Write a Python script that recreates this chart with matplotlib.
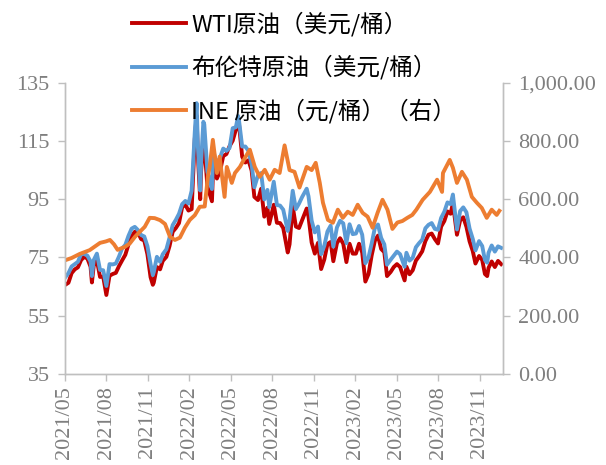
import matplotlib.pyplot as plt
from matplotlib.font_manager import FontProperties
import pandas as pd

plt.rcParams['font.family'] = 'serif'
plt.rcParams['font.serif'] = ['Liberation Serif', 'DejaVu Serif']

# weekly closes (plus a few intraweek extremes), USD/bbl
dates = ["2021-05-20", "2021-05-28", "2021-06-04", "2021-06-11", "2021-06-18", "2021-06-25",
         "2021-07-02", "2021-07-09", "2021-07-16", "2021-07-19", "2021-07-23", "2021-07-30",
         "2021-08-06", "2021-08-13", "2021-08-20", "2021-08-27", "2021-09-03", "2021-09-10",
         "2021-09-17", "2021-09-24", "2021-10-01", "2021-10-08", "2021-10-15", "2021-10-22",
         "2021-10-29", "2021-11-05", "2021-11-12", "2021-11-19", "2021-11-26", "2021-12-01",
         "2021-12-03", "2021-12-10", "2021-12-17", "2021-12-23", "2021-12-31", "2022-01-07",
         "2022-01-14", "2022-01-21", "2022-01-28", "2022-02-04", "2022-02-11", "2022-02-18",
         "2022-02-25", "2022-03-04", "2022-03-08", "2022-03-11", "2022-03-16", "2022-03-18",
         "2022-03-23", "2022-03-25", "2022-04-01", "2022-04-11", "2022-04-14", "2022-04-22",
         "2022-04-29", "2022-05-06", "2022-05-13", "2022-05-20", "2022-05-27", "2022-06-03",
         "2022-06-08", "2022-06-10", "2022-06-17", "2022-06-24", "2022-07-01", "2022-07-08",
         "2022-07-14", "2022-07-22", "2022-07-29", "2022-08-05", "2022-08-12", "2022-08-16",
         "2022-08-26", "2022-09-02", "2022-09-09", "2022-09-16", "2022-09-26", "2022-09-30",
         "2022-10-07", "2022-10-14", "2022-10-21", "2022-10-28", "2022-11-07", "2022-11-11",
         "2022-11-18", "2022-11-25", "2022-12-02", "2022-12-09", "2022-12-16", "2022-12-23",
         "2022-12-30", "2023-01-05", "2023-01-13", "2023-01-20", "2023-01-27", "2023-02-03",
         "2023-02-10", "2023-02-17", "2023-02-24", "2023-03-03", "2023-03-10", "2023-03-17",
         "2023-03-24", "2023-03-31", "2023-04-07", "2023-04-14", "2023-04-21", "2023-04-28",
         "2023-05-04", "2023-05-12", "2023-05-19", "2023-05-26", "2023-06-02", "2023-06-12",
         "2023-06-16", "2023-06-23", "2023-06-30", "2023-07-07", "2023-07-14", "2023-07-21",
         "2023-07-28", "2023-08-04", "2023-08-11", "2023-08-18", "2023-08-25", "2023-09-01",
         "2023-09-08", "2023-09-15", "2023-09-22", "2023-09-27", "2023-10-06", "2023-10-13",
         "2023-10-20", "2023-10-27", "2023-11-03", "2023-11-10", "2023-11-16", "2023-11-24",
         "2023-12-01", "2023-12-07", "2023-12-12", "2023-12-15", "2023-12-22", "2023-12-29",
         "2024-01-05", "2024-01-12"]

wti = [65.5, 66.3, 69.6, 70.9, 71.6, 74.1, 75.2, 74.6, 71.8, 66.4, 72.1, 74.0,
       68.3, 68.4, 62.1, 68.7, 69.3, 69.7, 72.0, 74.0, 75.9, 79.4, 82.3, 83.8,
       83.6, 81.3, 80.8, 76.1, 68.2, 65.6, 66.3, 71.7, 70.9, 73.8, 75.2, 78.9,
       83.8, 85.1, 86.8, 92.3, 93.1, 91.1, 91.6, 115.7, 123.7, 109.3, 95.0, 104.7,
       114.9, 113.9, 99.3, 94.3, 107.0, 102.1, 104.7, 109.8, 110.5, 113.2, 115.1, 118.9,
       122.1, 120.7, 109.6, 107.6, 108.4, 104.8, 95.8, 94.7, 98.6, 89.0, 92.1, 86.5,
       93.1, 86.9, 86.8, 85.1, 76.7, 79.5, 92.6, 85.6, 85.1, 87.9, 91.8, 89.0,
       80.1, 76.3, 80.0, 71.0, 74.3, 79.6, 80.3, 73.7, 79.9, 81.6, 79.7, 73.4,
       79.7, 76.3, 76.3, 79.7, 76.7, 66.7, 69.3, 75.7, 80.7, 82.5, 77.9, 76.8,
       68.6, 70.0, 71.7, 72.7, 71.7, 67.1, 71.8, 69.2, 70.6, 73.9, 75.4, 77.1,
       80.6, 82.8, 83.2, 81.3, 79.8, 85.6, 87.5, 90.8, 90.0, 93.7, 82.8, 87.7,
       88.8, 85.5, 80.5, 77.2, 72.9, 75.5, 74.1, 69.3, 68.6, 71.4, 73.6, 71.7,
       73.8, 72.7]

brent = [68.0, 69.6, 71.9, 72.7, 73.5, 76.2, 76.2, 75.6, 73.6, 68.6, 74.1, 76.3,
         70.7, 70.6, 65.2, 72.7, 72.6, 72.9, 75.3, 78.1, 79.3, 82.4, 84.9, 85.5,
         84.4, 82.7, 82.2, 78.9, 72.7, 68.9, 69.9, 75.2, 73.5, 76.1, 77.8, 81.8,
         86.1, 87.9, 90.0, 93.3, 94.4, 93.5, 97.9, 118.1, 128.0, 112.7, 98.0, 107.9,
         121.6, 120.7, 104.4, 98.5, 111.7, 106.7, 109.3, 112.4, 111.6, 112.6, 119.4, 119.7,
         123.6, 122.0, 113.1, 113.1, 111.6, 107.0, 99.1, 103.2, 104.0, 94.9, 98.2, 92.3,
         101.0, 93.0, 92.8, 91.4, 84.1, 88.0, 97.9, 91.6, 93.5, 95.8, 98.6, 96.0,
         87.6, 83.6, 85.6, 76.1, 79.0, 83.9, 85.9, 78.7, 85.3, 87.6, 86.7, 79.9,
         86.4, 83.0, 83.2, 85.8, 82.8, 73.0, 75.0, 79.8, 85.1, 86.3, 81.7, 79.5,
         72.5, 74.2, 75.6, 77.0, 76.1, 71.8, 76.6, 73.9, 74.9, 78.5, 79.9, 81.1,
         85.0, 86.2, 86.8, 84.8, 84.5, 88.6, 90.7, 93.9, 93.3, 96.6, 84.6, 90.9,
         92.2, 90.5, 84.9, 81.4, 77.4, 80.6, 78.9, 74.1, 73.2, 76.6, 79.1, 77.0,
         78.8, 78.3]

# INE crude, CNY/bbl (right axis)
ine_dates = ["2021-05-20", "2021-06-04", "2021-06-22", "2021-07-14", "2021-08-06", "2021-08-19",
             "2021-08-28", "2021-09-06", "2021-09-14", "2021-09-23", "2021-09-30", "2021-10-11",
             "2021-10-22", "2021-11-02", "2021-11-13", "2021-11-24", "2021-12-05", "2021-12-17",
             "2021-12-28", "2022-01-08", "2022-01-19", "2022-01-30", "2022-02-10", "2022-02-21",
             "2022-03-04", "2022-03-15", "2022-03-26", "2022-04-02", "2022-04-06", "2022-04-13",
             "2022-04-22", "2022-04-28", "2022-05-09", "2022-05-14", "2022-05-25", "2022-06-01",
             "2022-06-12", "2022-06-23", "2022-07-04", "2022-07-15", "2022-07-26", "2022-08-06",
             "2022-08-17", "2022-08-28", "2022-09-08", "2022-09-19", "2022-09-30", "2022-10-11",
             "2022-10-22", "2022-11-07", "2022-11-18", "2022-11-27", "2022-12-06", "2022-12-13",
             "2022-12-24", "2023-01-04", "2023-01-15", "2023-01-26", "2023-02-06", "2023-02-17",
             "2023-02-28", "2023-03-11", "2023-03-22", "2023-04-02", "2023-04-13", "2023-04-24",
             "2023-05-05", "2023-05-16", "2023-05-27", "2023-06-07", "2023-06-18", "2023-06-29",
             "2023-07-08", "2023-07-22", "2023-08-07", "2023-08-23", "2023-09-03", "2023-09-05",
             "2023-09-20", "2023-09-27", "2023-10-06", "2023-10-17", "2023-10-28", "2023-11-08",
             "2023-11-19", "2023-11-30", "2023-12-11", "2023-12-22", "2024-01-02", "2024-01-08"]

ine = [390, 398, 412, 425, 450, 455, 460, 445, 426, 432, 436, 448,
       470, 488, 505, 536, 535, 528, 515, 471, 460, 468, 502, 529,
       545, 574, 575, 677, 711, 804, 690, 746, 608, 711, 656, 690,
       711, 742, 770, 711, 677, 701, 667, 701, 690, 785, 700, 694,
       640, 711, 700, 725, 656, 588, 529, 519, 564, 536, 557, 546,
       581, 553, 540, 502, 553, 598, 564, 498, 520, 525, 536, 546,
       564, 598, 625, 667, 625, 690, 735, 708, 656, 694, 667, 608,
       588, 570, 536, 564, 546, 560]

tick_labels = ["2021/05", "2021/08", "2021/11", "2022/02", "2022/05", "2022/08",
               "2022/11", "2023/02", "2023/05", "2023/08", "2023/11"]

legend_names = ["WTI原油（美元/桶）", "布伦特原油（美元/桶）", "INE 原油（元/桶）（右）"]

grey = "#BFBFBF"
text_grey = "#7F7F7F"

fig = plt.figure(figsize=(6.06, 4.65), dpi=100)
ax = fig.add_axes([0.107, 0.196, 0.723, 0.626])
ax2 = ax.twinx()

d = pd.to_datetime(dates)
l1, = ax.plot(d, wti, color="#C00000", lw=2.8, solid_joinstyle="round")
l2, = ax.plot(d, brent, color="#5B9BD5", lw=2.8, solid_joinstyle="round")
l3, = ax2.plot(pd.to_datetime(ine_dates), ine, color="#ED7D31", lw=2.8, solid_joinstyle="round")

start = pd.Timestamp("2021-05-20")
ax.set_xlim(start, pd.Timestamp("2024-01-16"))
ticks = [start + pd.Timedelta(days=92 * i) for i in range(len(tick_labels))]
ax.set_xticks(ticks)
ax.set_xticklabels(tick_labels, rotation=90)

ax.set_ylim(35, 135)
ax.set_yticks(range(35, 136, 20))
ax2.set_ylim(0, 1000)
ax2.set_yticks(range(0, 1001, 200))
ax2.set_yticklabels([f"{v:,.2f}" for v in range(0, 1001, 200)])

for a in (ax, ax2):
    a.spines["top"].set_visible(False)
    for s in ("left", "right", "bottom"):
        a.spines[s].set_color(grey)
        a.spines[s].set_linewidth(1.0)
    a.tick_params(direction="out", length=5, width=1.0, color=grey,
                  labelcolor=text_grey, labelsize=16)
    for lab in a.get_xticklabels() + a.get_yticklabels():
        lab.set_fontfamily("Liberation Serif")
ax.tick_params(axis="x", pad=4)
ax.tick_params(axis="y", pad=6)
ax2.tick_params(axis="y", pad=6)

fig.legend([l1, l2, l3], legend_names, loc="upper left",
           bbox_to_anchor=(0.218, 0.975), frameon=False,
           prop=FontProperties(family="Noto Sans CJK SC", size=17),
           handlelength=2.3, handletextpad=0.2, labelspacing=0.8,
           borderpad=0, borderaxespad=0)

fig.savefig("out.png", dpi=100)
